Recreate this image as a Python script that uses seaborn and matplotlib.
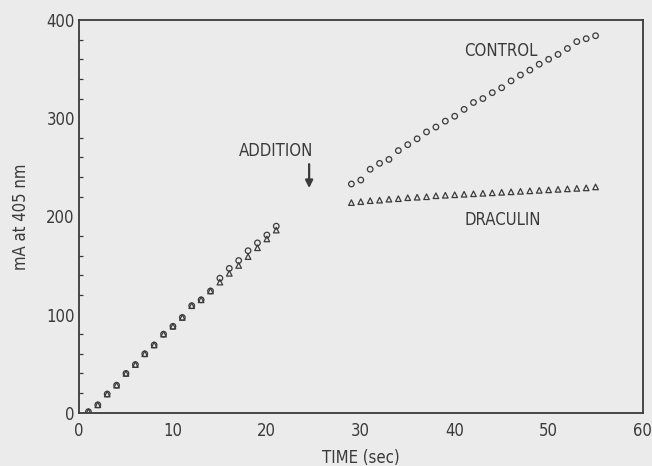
import matplotlib
matplotlib.use("Agg")
import matplotlib.pyplot as plt
import seaborn as sns
import pandas as pd

# ---- data ----
pre_time = list(range(1, 22))
pre_control = [1, 8, 19, 28, 40, 49, 60, 69, 80, 88, 97, 109, 115, 124,
               137, 147, 155, 165, 173, 181, 190]
pre_draculin = [1, 8, 19, 28, 40, 49, 60, 69, 80, 88, 97, 109, 115, 124,
                133, 142, 150, 159, 168, 177, 186]

post_time = list(range(29, 56))
post_control = [233, 237, 248, 254, 258, 267, 273, 279, 286, 291, 297, 302,
                309, 316, 320, 326, 331, 338, 344, 349, 355, 360, 365, 371,
                378, 381, 384]
post_draculin = [214, 215, 216, 216.5, 217.5, 218, 219, 219.5, 220, 221,
                 221.5, 222, 222.5, 223, 223.5, 224, 224.5, 225, 225.5, 226,
                 226.5, 227, 227.5, 228, 228.5, 229, 230]

x_ticks = [0, 10, 20, 30, 40, 50, 60]
y_ticks = [0, 100, 200, 300, 400]

df = pd.DataFrame({
    "time": pre_time + post_time + pre_time + post_time,
    "mA": pre_control + post_control + pre_draculin + post_draculin,
    "series": ["CONTROL"] * (len(pre_time) + len(post_time))
              + ["DRACULIN"] * (len(pre_time) + len(post_time)),
})

sns.set_theme(style="white")
plt.rcParams["font.family"] = ["DejaVu Sans"]
plt.rcParams["font.stretch"] = "condensed"

ink = "#3a3a3a"
bg = "#ebebeb"
fs = 12

fig = plt.figure(figsize=(6.52, 4.66), dpi=100, facecolor=bg)
ax = fig.add_axes([0.1212, 0.1144, 0.8643, 0.8426], facecolor=bg)

sns.scatterplot(data=df[df.series == "CONTROL"], x="time", y="mA",
                marker="o", s=16, facecolor="none", edgecolor=ink,
                linewidth=0.9, ax=ax, legend=False, zorder=3)
sns.scatterplot(data=df[df.series == "DRACULIN"], x="time", y="mA",
                marker="^", s=16, facecolor="none", edgecolor=ink,
                linewidth=0.9, ax=ax, legend=False, zorder=3)

ax.set_xlim(0, 60)
ax.set_ylim(0, 400)
ax.set_xticks(x_ticks)
ax.set_yticks(y_ticks)
ax.set_yticks(range(0, 401, 20), minor=True)
ax.tick_params(axis="both", which="major", direction="in", length=5,
               width=1.0, color=ink, labelsize=fs, labelcolor=ink, pad=3)
ax.tick_params(axis="x", which="major", pad=7)
ax.tick_params(axis="y", which="minor", direction="in", length=3,
               width=0.9, color=ink, left=True)
ax.tick_params(axis="x", which="minor", bottom=False)

for sp in ax.spines.values():
    sp.set_visible(True)
    sp.set_color(ink)
    sp.set_linewidth(1.3)

ax.set_xlabel("TIME (sec)", fontsize=fs, color=ink, labelpad=6)
ax.set_ylabel("mA at 405 nm", fontsize=fs, color=ink, labelpad=12)

ax.text(24.95, 267, "ADDITION", fontsize=fs, color=ink, ha="right", va="center")
ax.annotate("", xy=(24.5, 226), xytext=(24.5, 256),
            arrowprops=dict(arrowstyle="-|>", color=ink, lw=1.6,
                            mutation_scale=11))
ax.text(41.0, 368, "CONTROL", fontsize=fs, color=ink, ha="left", va="center")
ax.text(41.0, 196, "DRACULIN", fontsize=fs, color=ink, ha="left", va="center")

fig.savefig("out.png", dpi=100, facecolor=bg)
